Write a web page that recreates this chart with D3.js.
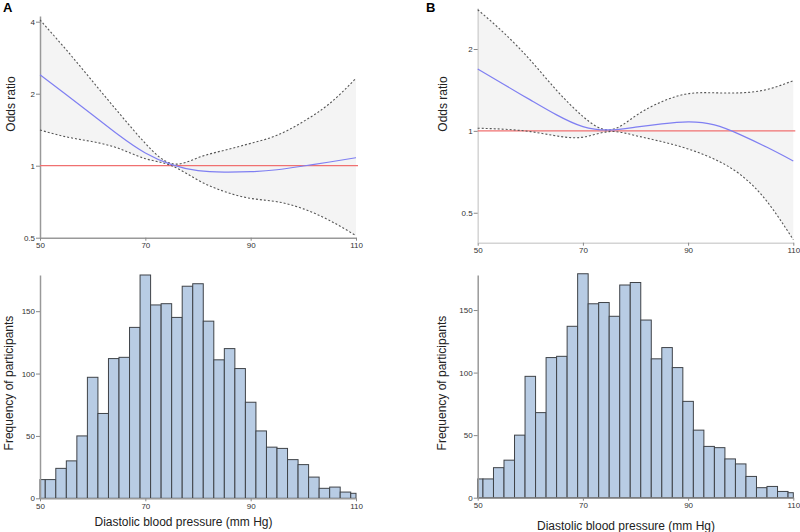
<!DOCTYPE html>
<html>
<head>
<meta charset="utf-8">
<script src="https://cdn.jsdelivr.net/npm/d3@7"></script>
<style>
  body { margin: 0; background: #fff; }
  svg { display: block; font-family: "Liberation Sans", Arial, sans-serif; }
</style>
</head>
<body>
<svg id="chart" width="800" height="532"></svg>
<script>
// ---------- DATA ----------
const xTicks = [50, 70, 90, 110];
const orTicksA = [0.5, 1, 2, 4];
const orTicksB = [0.5, 1, 2];
const histTicks = [0, 50, 100, 150];

// Spline grid (diastolic BP, mm Hg)
const splineX = [50, 55, 60, 65, 70, 75, 80, 85, 90, 95, 100, 105, 110];

// Panel A odds ratios
const aFit   = [2.40, 1.98, 1.63, 1.34, 1.13, 1.01, 0.953, 0.94, 0.944, 0.962, 0.997, 1.036, 1.08];
const aUpper = [4.07, 3.05, 2.25, 1.66, 1.24, 1.02, 1.08, 1.16, 1.24, 1.34, 1.53, 1.82, 2.32];
const aLower = [1.41, 1.32, 1.26, 1.18, 1.07, 1.00, 0.87, 0.78, 0.73, 0.707, 0.66, 0.59, 0.51];

// Panel B odds ratios
const bFit   = [1.69, 1.48, 1.30, 1.145, 1.037, 1.008, 1.032, 1.061, 1.079, 1.052, 0.967, 0.87, 0.775];
const bUpper = [2.79, 2.29, 1.82, 1.41, 1.13, 1.008, 1.135, 1.28, 1.37, 1.38, 1.38, 1.42, 1.53];
const bLower = [1.023, 1.014, 0.994, 0.958, 0.948, 0.994, 0.961, 0.913, 0.858, 0.787, 0.689, 0.55, 0.398];

// Histogram (2-unit bins starting at 49)
const binStarts = [49,51,53,55,57,59,61,63,65,67,69,71,73,75,77,79,81,83,85,87,89,91,93,95,97,99,101,103,105,107,109];
const counts    = [15,15,24,30,50,97,68,112,113,137,179,155,156,145,170,172,142,111,120,104,77,54,41,40,31,27,17,8,9,5,4];

// ---------- DRAW ----------
const svg = d3.select("#chart");

function styleAxis(a, domainColor) {
  a.select(".domain").attr("stroke", domainColor).attr("stroke-width", 1.5);
  a.selectAll(".tick line").attr("stroke", "#888");
  a.selectAll("text").attr("fill", "#333").style("font-size", "8px");
}

function orPanel(g, cfg) {
  const x = d3.scaleLinear().domain([50, 110]).range(cfg.xr);
  const y = d3.scaleLog().domain(cfg.yd).range(cfg.yr);
  const pts = (arr) => splineX.map((v, i) => [v, arr[i]]);
  const curve = d3.curveNatural;

  const area = d3.area().x(d => x(d[0])).y0(d => y(d[1])).y1(d => y(d[2])).curve(curve);
  g.append("path")
    .datum(splineX.map((v, i) => [v, cfg.lo[i], cfg.up[i]]))
    .attr("d", area).attr("fill", "#f4f4f4");

  const line = d3.line().x(d => x(d[0])).y(d => y(d[1])).curve(curve);

  const ax = g.append("g").attr("transform", `translate(0,${cfg.yr[0]})`)
    .call(d3.axisBottom(x).tickValues(xTicks).tickSize(3).tickSizeOuter(0).tickPadding(2));
  const ay = g.append("g").attr("transform", `translate(${cfg.xr[0]},0)`)
    .call(d3.axisLeft(y).tickValues(cfg.ticks).tickFormat(d3.format("")).tickSize(4).tickSizeOuter(0).tickPadding(1));
  styleAxis(ax, cfg.axisColor);
  styleAxis(ay, cfg.axisColor);

  g.append("line")
    .attr("x1", cfg.xr[0]).attr("x2", cfg.xr[1] + 2)
    .attr("y1", y(1)).attr("y2", y(1))
    .attr("stroke", "#f07070").attr("stroke-width", 1.2);

  [cfg.up, cfg.lo].forEach(arr => {
    g.append("path").datum(pts(arr)).attr("d", line)
      .attr("fill", "none").attr("stroke", "#555").attr("stroke-width", 1.1)
      .attr("stroke-dasharray", "2,2");
  });

  g.append("path").datum(pts(cfg.fit)).attr("d", line)
    .attr("fill", "none").attr("stroke", "#7f7ff2").attr("stroke-width", 1.2);

  g.append("text")
    .attr("transform", `translate(${cfg.ylabX},${cfg.ylabY}) rotate(-90)`)
    .attr("text-anchor", "middle").style("font-size", "12px").attr("fill", "#222")
    .text("Odds ratio");
}

function histPanel(g, cfg) {
  const x = d3.scaleLinear().domain([50, 110]).range(cfg.xr);
  const y = d3.scaleLinear().domain(cfg.yd).range(cfg.yr);
  g.selectAll("rect").data(binStarts.map((s, i) => ({ s, c: counts[i] })))
    .join("rect")
    .attr("x", d => x(Math.max(50, d.s)))
    .attr("width", d => x(Math.min(110, d.s + 2)) - x(Math.max(50, d.s)))
    .attr("y", d => y(d.c))
    .attr("height", d => y(0) - y(d.c))
    .attr("fill", "#b8cce4").attr("stroke", "#3f4348").attr("stroke-width", 1);

  const ax = g.append("g").attr("transform", `translate(0,${cfg.yr[0]})`)
    .call(d3.axisBottom(x).tickValues(xTicks).tickSize(3).tickSizeOuter(0).tickPadding(2));
  const ay = g.append("g").attr("transform", `translate(${cfg.xr[0]},0)`)
    .call(d3.axisLeft(y).tickValues(histTicks).tickSize(4).tickSizeOuter(0).tickPadding(1));
  styleAxis(ax, "#999");
  styleAxis(ay, "#999");

  g.append("text")
    .attr("transform", `translate(${cfg.ylabX},${cfg.ylabY}) rotate(-90)`)
    .attr("text-anchor", "middle").style("font-size", "12px").attr("fill", "#222")
    .text("Frequency of participants");
  g.append("text")
    .attr("x", cfg.xlabX).attr("y", cfg.xlabY)
    .attr("text-anchor", "middle").style("font-size", "12px").attr("fill", "#222")
    .text("Diastolic blood pressure (mm Hg)");
}

const gA = svg.append("g");
orPanel(gA, {
  xr: [40, 356], yd: [0.5, 4 * Math.pow(2, 5.7 / 72)], yr: [237.7, 16],
  fit: aFit, up: aUpper, lo: aLower, ticks: orTicksA,
  axisColor: "#999", ylabX: 14.5, ylabY: 104
});
histPanel(gA, {
  xr: [40, 356], yd: [0, 179], yr: [498.3, 275],
  ylabX: 12.5, ylabY: 383, xlabX: 183.5, xlabY: 526
});

const gB = svg.append("g");
orPanel(gB, {
  xr: [477.7, 793.3], yd: [0.388, 2.83], yr: [242.7, 8],
  fit: bFit, up: bUpper, lo: bLower, ticks: orTicksB,
  axisColor: "#d4d4d4", ylabX: 446.5, ylabY: 104
});
histPanel(gB, {
  xr: [477.7, 793.3], yd: [0, 178], yr: [497.7, 275],
  ylabX: 445.5, ylabY: 383, xlabX: 626, xlabY: 530
});

svg.append("text").attr("x", 3).attr("y", 12).style("font-size", "13px").style("font-weight", "bold").text("A");
svg.append("text").attr("x", 426).attr("y", 12).style("font-size", "13px").style("font-weight", "bold").text("B");
</script>
</body>
</html>
